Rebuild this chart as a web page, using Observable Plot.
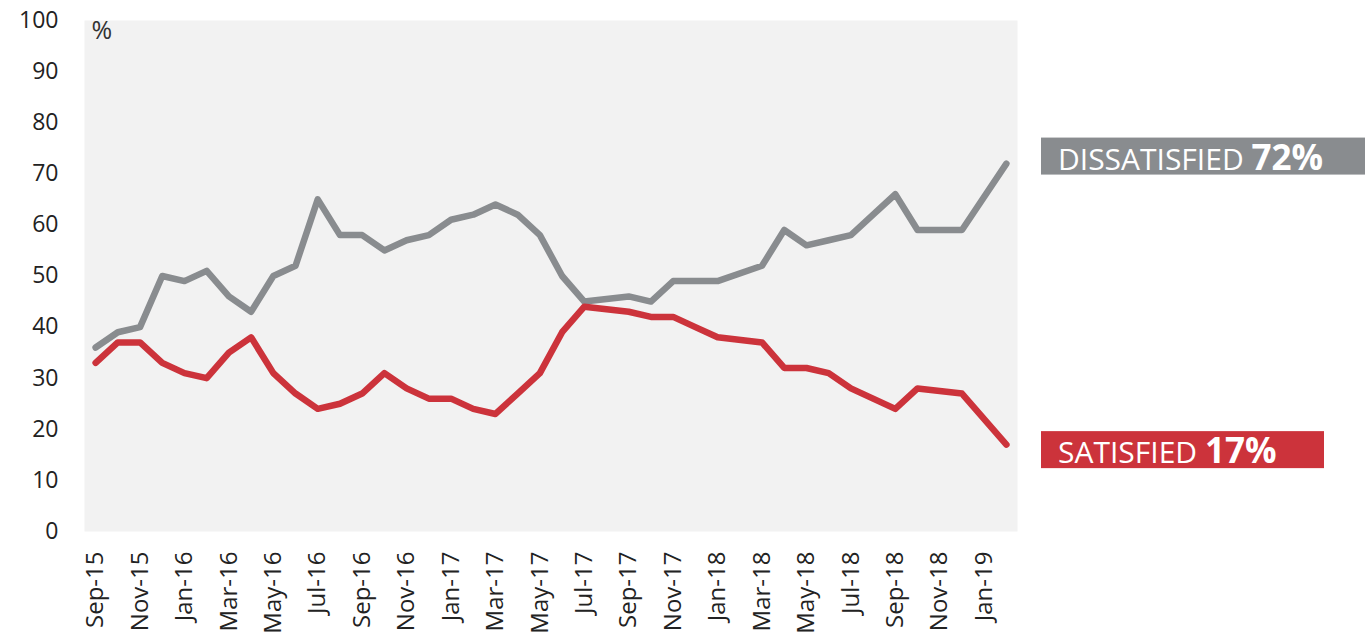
<!DOCTYPE html>
<html>
<head>
<meta charset="utf-8">
<script src="https://cdn.jsdelivr.net/npm/d3@7"></script>
<script src="https://cdn.jsdelivr.net/npm/@observablehq/plot@0.6"></script>
<style>
  html, body { margin: 0; padding: 0; background: #fff; }
  #chart { width: 1365px; height: 641px; }
</style>
</head>
<body>
<div id="chart"></div>
<script>
// Months (monthly survey, some months without a reading)
const months = [
  "Sep-15","Oct-15","Nov-15","Dec-15","Jan-16","Feb-16","Mar-16","Apr-16","May-16","Jun-16",
  "Jul-16","Aug-16","Sep-16","Oct-16","Nov-16","Dec-16","Jan-17","Feb-17","Mar-17","Apr-17",
  "May-17","Jun-17","Jul-17","Aug-17","Sep-17","Oct-17","Nov-17","Dec-17","Jan-18","Feb-18",
  "Mar-18","Apr-18","May-18","Jun-18","Jul-18","Aug-18","Sep-18","Oct-18","Nov-18","Dec-18",
  "Jan-19","Feb-19"
];
const dissatisfied = [
  36,39,40,50,49,51,46,43,50,52,
  65,58,58,55,57,58,61,62,64,62,
  58,50,45,null,46,45,49,49,49,null,
  52,59,56,57,58,62,66,59,null,59,
  null,72
];
const satisfied = [
  33,37,37,33,31,30,35,38,31,27,
  24,25,27,31,28,26,26,24,23,27,
  31,39,44,null,43,42,42,40,38,null,
  37,32,32,31,28,26,24,28,null,27,
  null,17
];
const tickLabels = [
  "Sep-15","Nov-15","Jan-16","Mar-16","May-16","Jul-16","Sep-16","Nov-16","Jan-17","Mar-17","May-17",
  "Jul-17","Sep-17","Nov-17","Jan-18","Mar-18","May-18","Jul-18","Sep-18","Nov-18","Jan-19"
];
const yTicks = [0,10,20,30,40,50,60,70,80,90,100];
const seriesNames = ["Dissatisfied","Satisfied"];
const seriesColors = ["#898c8f","#cc333b"];
const endLabels = [
  {name: "DISSATISFIED", value: "72%", last: 72, color: "#898c8f", shift: -7, width: 330},
  {name: "SATISFIED", value: "17%", last: 17, color: "#cc333b", shift: 5.5, width: 283}
];

const rows = [];
months.forEach((m, i) => {
  if (dissatisfied[i] != null) rows.push({month: m, value: dissatisfied[i], series: "Dissatisfied"});
});
months.forEach((m, i) => {
  if (satisfied[i] != null) rows.push({month: m, value: satisfied[i], series: "Satisfied"});
});

const font = "'Open Sans', 'Noto Sans', sans-serif";

const plot = Plot.plot({
  width: 1365,
  height: 641,
  marginLeft: 84,
  marginRight: 348,
  marginTop: 20,
  marginBottom: 110,
  style: {fontFamily: font, fontSize: "21px", color: "#222", background: "#fff", overflow: "visible"},
  x: {type: "point", domain: months, padding: 0.5, round: false},
  y: {domain: [0, 100]},
  color: {domain: seriesNames, range: seriesColors},
  marks: [
    Plot.frame({fill: "#f2f2f2", stroke: null}),
    Plot.axisY({ticks: yTicks, tickSize: 0, tickPadding: 26, fontSize: 23, label: null}),
    Plot.axisX({ticks: tickLabels, tickSize: 0, tickRotate: -90, tickPadding: 20, fontSize: 24, label: null}),
    Plot.line(rows, {x: "month", y: "value", z: "series", stroke: "series",
      strokeWidth: 6.5, strokeLinejoin: "round", strokeLinecap: "round"}),
    Plot.text(["%"], {text: d => d, frameAnchor: "top-left", dx: 7, dy: 1, lineAnchor: "top",
      textAnchor: "start", fontSize: 25, fill: "#333"})
  ]
});

document.getElementById("chart").appendChild(plot);

// End-of-line labels, positioned from the y scale
const yScale = plot.scale("y");
const svg = d3.select(plot);
const boxLeft = 1365 - 348 + 24;
endLabels.forEach(l => {
  const cy = yScale.apply(l.last) + l.shift;
  const h = 37;
  const g = svg.append("g");
  g.append("rect").attr("x", boxLeft).attr("y", cy - h / 2).attr("width", l.width).attr("height", h).attr("fill", l.color);
  const t = g.append("text").attr("x", boxLeft + 17).attr("y", cy + h / 2 - 5)
    .attr("fill", "#fff").attr("text-anchor", "start")
    .style("font-family", font).style("text-anchor", "start");
  t.append("tspan").style("font-size", "30px").style("font-weight", "400").text(l.name + " ");
  t.append("tspan").style("font-size", "35px").style("font-weight", "700").text(l.value);
});
</script>
</body>
</html>
